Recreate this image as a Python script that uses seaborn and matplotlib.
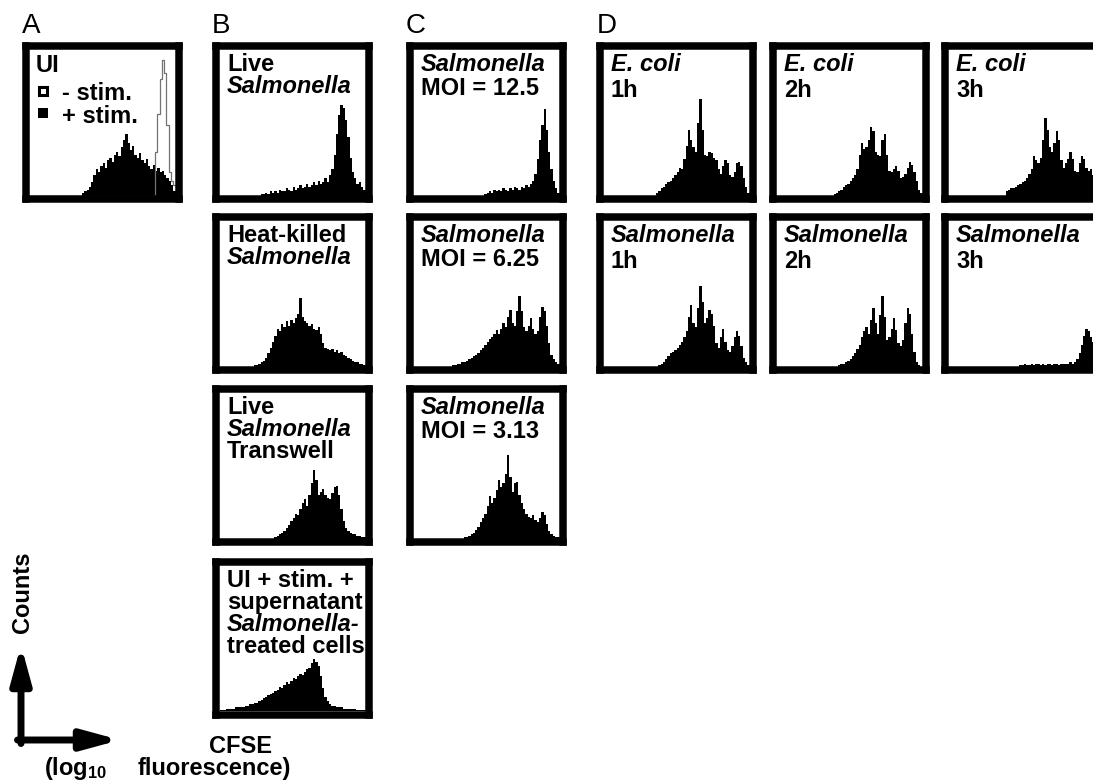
import numpy as np
import pandas as pd
import matplotlib
matplotlib.use("Agg")
import matplotlib.pyplot as plt
from matplotlib.patches import Rectangle
import seaborn as sns

# CFSE histograms, 64 channels each, height in % of the panel height
ui_plus_stim = [0, 0, 0, 0, 0, 0, 0, 0, 0, 0, 0, 0, 0, 0, 0, 0, 0, 0, 0, 0, 0, 0, 0,
                2, 3, 4, 6, 9, 14, 18, 16, 20, 22, 19, 24, 26, 23, 28, 30, 27, 33, 38, 42,
                36, 31, 34, 28, 26, 29, 24, 22, 25, 20, 18, 21, 17, 19, 16, 17, 14, 12, 10, 7, 3]
ui_minus_stim = [0, 0, 0, 0, 0, 0, 0, 0, 0, 0, 0, 0, 0, 0, 0, 0, 0, 0, 0, 0, 0, 0, 0, 0, 0, 0,
                 0, 0, 0, 0, 0, 0, 0, 0, 0, 0, 0, 0, 0, 0, 0, 0, 0, 0, 0, 0, 0, 0, 0, 0, 0, 0, 0,
                 0, 0, 30, 56, 80, 93, 84, 48, 16, 10, 7]

live_salm = [0, 0, 0, 0, 0, 0, 0, 0, 0, 0, 0, 0, 0, 0, 0, 0, 0, 0,
             1, 1, 2, 1, 3, 2, 3, 2, 4, 3, 3, 5, 4, 3, 6, 4, 5, 7, 5, 6, 8, 6, 7, 9, 7, 10,
             8, 9, 12, 9, 14, 18, 28, 42, 55, 62, 60, 52, 40, 26, 16, 12, 8, 9, 6, 4]
heat_killed = [0, 0, 0, 0, 0, 0, 0, 0, 0, 0, 0, 0, 0, 0, 0,
               1, 1, 2, 3, 4, 6, 9, 13, 17, 21, 26, 24, 29, 27, 31, 28, 32, 30, 33, 36, 47,
               34, 31, 30, 28, 29, 26, 25, 27, 22, 16, 13, 12, 11, 12, 10, 11, 9, 10, 8, 7,
               6, 5, 4, 3, 3, 2, 2, 1]
transwell = [0, 0, 0, 0, 0, 0, 0, 0, 0, 0, 0, 0, 0, 0, 0, 0, 0, 0, 0, 0, 0, 0, 0, 0,
             1, 2, 3, 4, 5, 7, 9, 12, 14, 17, 16, 20, 24, 27, 22, 30, 38, 47, 40, 30, 32,
             34, 30, 28, 27, 31, 35, 36, 30, 20, 12, 7, 5, 4, 3, 3, 2, 2, 1, 1]
supernatant = [1, 1, 1, 2, 2, 2, 2, 3, 3, 3, 3, 4, 4, 5, 5, 6, 6, 7, 8, 9, 10, 11, 12, 13,
               14, 15, 17, 16, 18, 20, 19, 21, 23, 22, 24, 26, 25, 27, 29, 30, 33, 36, 34,
               31, 24, 16, 10, 7, 5, 4, 4, 3, 3, 3, 2, 2, 2, 2, 2, 2, 1, 1, 1, 1]

moi_12_5 = [0, 0, 0, 0, 0, 0, 0, 0, 0, 0, 0, 0, 0, 0, 0, 0, 0, 0, 0, 0, 0, 0, 0, 0, 0, 0,
            0, 0, 0, 0, 0, 1, 2, 3, 2, 4, 3, 4, 3, 5, 4, 3, 5, 4, 6, 5, 4, 6, 5, 7, 6, 8,
            10, 15, 25, 38, 48, 59, 45, 30, 18, 10, 5, 2]
moi_6_25 = [0, 0, 0, 0, 0, 0, 0, 0, 0, 0, 0, 0, 0, 0, 0, 0, 0,
            1, 1, 2, 2, 3, 3, 4, 5, 6, 7, 8, 9, 11, 13, 15, 17, 19, 20, 22, 25, 22, 26, 30,
            27, 34, 39, 30, 28, 38, 48, 38, 27, 24, 28, 33, 26, 22, 24, 34, 41, 38, 28, 16,
            8, 5, 3, 2]
moi_3_13 = [0, 0, 0, 0, 0, 0, 0, 0, 0, 0, 0, 0, 0, 0, 0, 0, 0, 0, 0, 0, 0, 0,
            1, 1, 2, 3, 4, 6, 8, 11, 14, 17, 22, 29, 24, 28, 33, 40, 35, 38, 44, 57, 42,
            32, 38, 39, 30, 24, 20, 17, 15, 14, 16, 13, 11, 14, 18, 16, 10, 5, 3, 2, 1, 1]

ecoli_1h = [0, 0, 0, 0, 0, 0, 0, 0, 0, 0, 0, 0, 0, 0, 0, 0, 0, 0, 0, 0, 0, 0, 0,
            2, 3, 5, 6, 8, 9, 10, 12, 14, 16, 19, 18, 25, 34, 45, 38, 33, 30, 50, 66, 45,
            28, 27, 30, 29, 26, 24, 18, 15, 20, 24, 22, 14, 13, 16, 22, 23, 20, 12, 6, 2]
ecoli_2h = [0, 0, 0, 0, 0, 0, 0, 0, 0, 0, 0, 0, 0, 0, 0, 0, 0, 0, 0, 0, 0, 0, 0, 0, 0,
            1, 2, 3, 4, 6, 7, 8, 10, 12, 14, 18, 28, 36, 32, 33, 38, 47, 44, 30, 28, 27,
            38, 42, 28, 17, 16, 18, 20, 17, 12, 13, 15, 19, 23, 21, 16, 10, 4, 2]
ecoli_3h = [0, 0, 0, 0, 0, 0, 0, 0, 0, 0, 0, 0, 0, 0, 0, 0, 0, 0, 0, 0, 0, 0, 0, 0, 0,
            3, 4, 5, 5, 6, 7, 8, 9, 10, 12, 15, 18, 27, 24, 22, 26, 38, 53, 45, 33, 30,
            36, 44, 38, 24, 19, 22, 25, 30, 25, 17, 16, 22, 27, 25, 19, 17, 18, 14]
salm_1h = [0, 0, 0, 0, 0, 0, 0, 0, 0, 0, 0, 0, 0, 0, 0, 0, 0, 0, 0, 0, 0, 0, 0, 0,
           1, 2, 3, 5, 7, 9, 10, 11, 13, 15, 17, 20, 24, 34, 42, 30, 27, 40, 55, 44, 30,
           33, 39, 36, 28, 16, 13, 20, 26, 17, 11, 10, 14, 20, 24, 21, 14, 6, 3, 1]
salm_2h = [0, 0, 0, 0, 0, 0, 0, 0, 0, 0, 0, 0, 0, 0, 0, 0, 0, 0, 0, 0, 0, 0, 0, 0, 0, 0, 0,
           1, 2, 2, 3, 4, 5, 7, 9, 12, 15, 20, 24, 27, 22, 32, 40, 30, 22, 35, 48, 34, 18,
           20, 26, 33, 25, 16, 14, 18, 30, 40, 36, 22, 10, 3, 1, 0]
salm_3h = [0, 0, 0, 0, 0, 0, 0, 0, 0, 0, 0, 0, 0, 0, 0, 0, 0, 0, 0, 0, 0, 0, 0, 0, 0, 0, 0,
           0, 0, 0, 0, 1, 1, 2, 1, 1, 2, 1, 2, 2, 1, 2, 1, 2, 2, 1, 2, 2, 1, 2, 2, 2, 2, 3,
           2, 3, 5, 9, 15, 21, 26, 24, 20, 17]

# panel labels: (text, italic) per line
lab_live = [("Live", False), ("Salmonella", True)]
lab_heat = [("Heat-killed", False), ("Salmonella", True)]
lab_trans = [("Live", False), ("Salmonella", True), ("Transwell", False)]
lab_super = [("UI + stim. +", False), ("supernatant", False), ("Salmonella-", True),
             ("treated cells", False)]
lab_moi1 = [("Salmonella", True), ("MOI = 12.5", False)]
lab_moi2 = [("Salmonella", True), ("MOI = 6.25", False)]
lab_moi3 = [("Salmonella", True), ("MOI = 3.13", False)]
lab_e1 = [("E. coli", True), ("1h", False)]
lab_e2 = [("E. coli", True), ("2h", False)]
lab_e3 = [("E. coli", True), ("3h", False)]
lab_s1 = [("Salmonella", True), ("1h", False)]
lab_s2 = [("Salmonella", True), ("2h", False)]
lab_s3 = [("Salmonella", True), ("3h", False)]

W, H = 1093, 781
BOX = 161
BORDER = 7.5
FS = 17

sns.set_style("white")
plt.rcParams["font.family"] = ["Liberation Sans", "DejaVu Sans"]
plt.rcParams["text.color"] = "black"
plt.rcParams["mathtext.fontset"] = "custom"
plt.rcParams["mathtext.rm"] = "Liberation Sans:bold"
plt.rcParams["mathtext.it"] = "Liberation Sans:bold:italic"
plt.rcParams["mathtext.bf"] = "Liberation Sans:bold"

fig = plt.figure(figsize=(W / 100, H / 100), dpi=100)


def add_panel(x0, y0, counts, outline=None):
    half = BORDER / 2
    size = BOX - BORDER
    inner = BOX - 2 * BORDER
    ax = fig.add_axes([(x0 + half) / W, 1 - (y0 + half + size) / H, size / W, size / H])
    n = len(counts)
    df = pd.DataFrame({"cfse": (np.arange(n) + 0.5) / n, "count": counts})
    sns.histplot(data=df, x="cfse", weights="count", bins=n, binrange=(0, 1),
                 element="step", fill=True, color="black", alpha=1, linewidth=0, ax=ax)
    if outline is not None:
        df2 = pd.DataFrame({"cfse": (np.arange(n) + 0.5) / n, "count": outline})
        sns.histplot(data=df2, x="cfse", weights="count", bins=n, binrange=(0, 1),
                     element="step", fill=False, color="0.45", linewidth=0.9, ax=ax)
    padx = half / inner
    ax.set_xlim(-padx, 1 + padx)
    ax.set_ylim(-100 * padx, 100 + 100 * padx)
    ax.set_xticks([])
    ax.set_yticks([])
    ax.set_xlabel("")
    ax.set_ylabel("")
    for s in ax.spines.values():
        s.set_visible(True)
        s.set_linewidth(BORDER * 0.72)
        s.set_color("black")
    return ax


cols = {"A": 22, "B": 212, "C": 406, "D1": 596, "D2": 769, "D3": 941}
rows = [42, 213, 385, 558]

panels = [
    (cols["B"], rows[0], live_salm, lab_live, 22),
    (cols["B"], rows[1], heat_killed, lab_heat, 22),
    (cols["B"], rows[2], transwell, lab_trans, 22),
    (cols["B"], rows[3], supernatant, lab_super, 22),
    (cols["C"], rows[0], moi_12_5, lab_moi1, 24),
    (cols["C"], rows[1], moi_6_25, lab_moi2, 24),
    (cols["C"], rows[2], moi_3_13, lab_moi3, 24),
    (cols["D1"], rows[0], ecoli_1h, lab_e1, 26),
    (cols["D2"], rows[0], ecoli_2h, lab_e2, 26),
    (cols["D3"], rows[0], ecoli_3h, lab_e3, 26),
    (cols["D1"], rows[1], salm_1h, lab_s1, 26),
    (cols["D2"], rows[1], salm_2h, lab_s2, 26),
    (cols["D3"], rows[1], salm_3h, lab_s3, 26),
]

add_panel(cols["A"], rows[0], ui_plus_stim, outline=ui_minus_stim)
for x0, y0, counts, _, _ in panels:
    add_panel(x0, y0, counts)

# overlay in pixel coordinates for all the lettering
over = fig.add_axes([0, 0, 1, 1], zorder=10)
over.set_xlim(0, W)
over.set_ylim(H, 0)
over.axis("off")
over.patch.set_alpha(0)

for x0, y0, _, lines, pitch in panels:
    for i, (txt, it) in enumerate(lines):
        over.text(x0 + 15, y0 + 11 + i * pitch, txt, fontsize=FS, fontweight="bold",
                  style="italic" if it else "normal", ha="left", va="top")

# panel A legend
over.text(36, 54, "UI", fontsize=FS, fontweight="bold", ha="left", va="top")
over.add_patch(Rectangle((38.5, 87), 8, 8, fill=False, lw=2.2, ec="black"))
over.text(62, 82, "- stim.", fontsize=FS, fontweight="bold", ha="left", va="top")
over.add_patch(Rectangle((38, 108), 9.5, 9.5, fc="black", ec="none"))
over.text(62, 105, "+ stim.", fontsize=FS, fontweight="bold", ha="left", va="top")

for letter, x in [("A", 22), ("B", 212), ("C", 406), ("D", 597)]:
    over.text(x, 13, letter, fontsize=20, ha="left", va="top")

# axis key at the bottom left
over.annotate("", xy=(21, 645), xytext=(21, 743.5),
              arrowprops=dict(arrowstyle="-|>,head_length=1.1,head_width=0.3", lw=5,
                              color="black", shrinkA=0, shrinkB=0, mutation_scale=20))
over.annotate("", xy=(120, 740), xytext=(17.5, 740),
              arrowprops=dict(arrowstyle="-|>,head_length=1.1,head_width=0.3", lw=5,
                              color="black", shrinkA=0, shrinkB=0, mutation_scale=20))
over.text(23, 592, "Counts", rotation=90, fontsize=FS, fontweight="bold",
          ha="center", va="center")
over.text(209, 735, "CFSE", fontsize=FS, fontweight="bold", ha="left", va="top")
over.text(44, 775, r"(log$_{10}$", fontsize=FS, fontweight="bold", ha="left",
          va="baseline")
over.text(138, 775, "fluorescence)", fontsize=FS, fontweight="bold", ha="left",
          va="baseline")

fig.savefig("out.png", dpi=100)
plt.close(fig)
